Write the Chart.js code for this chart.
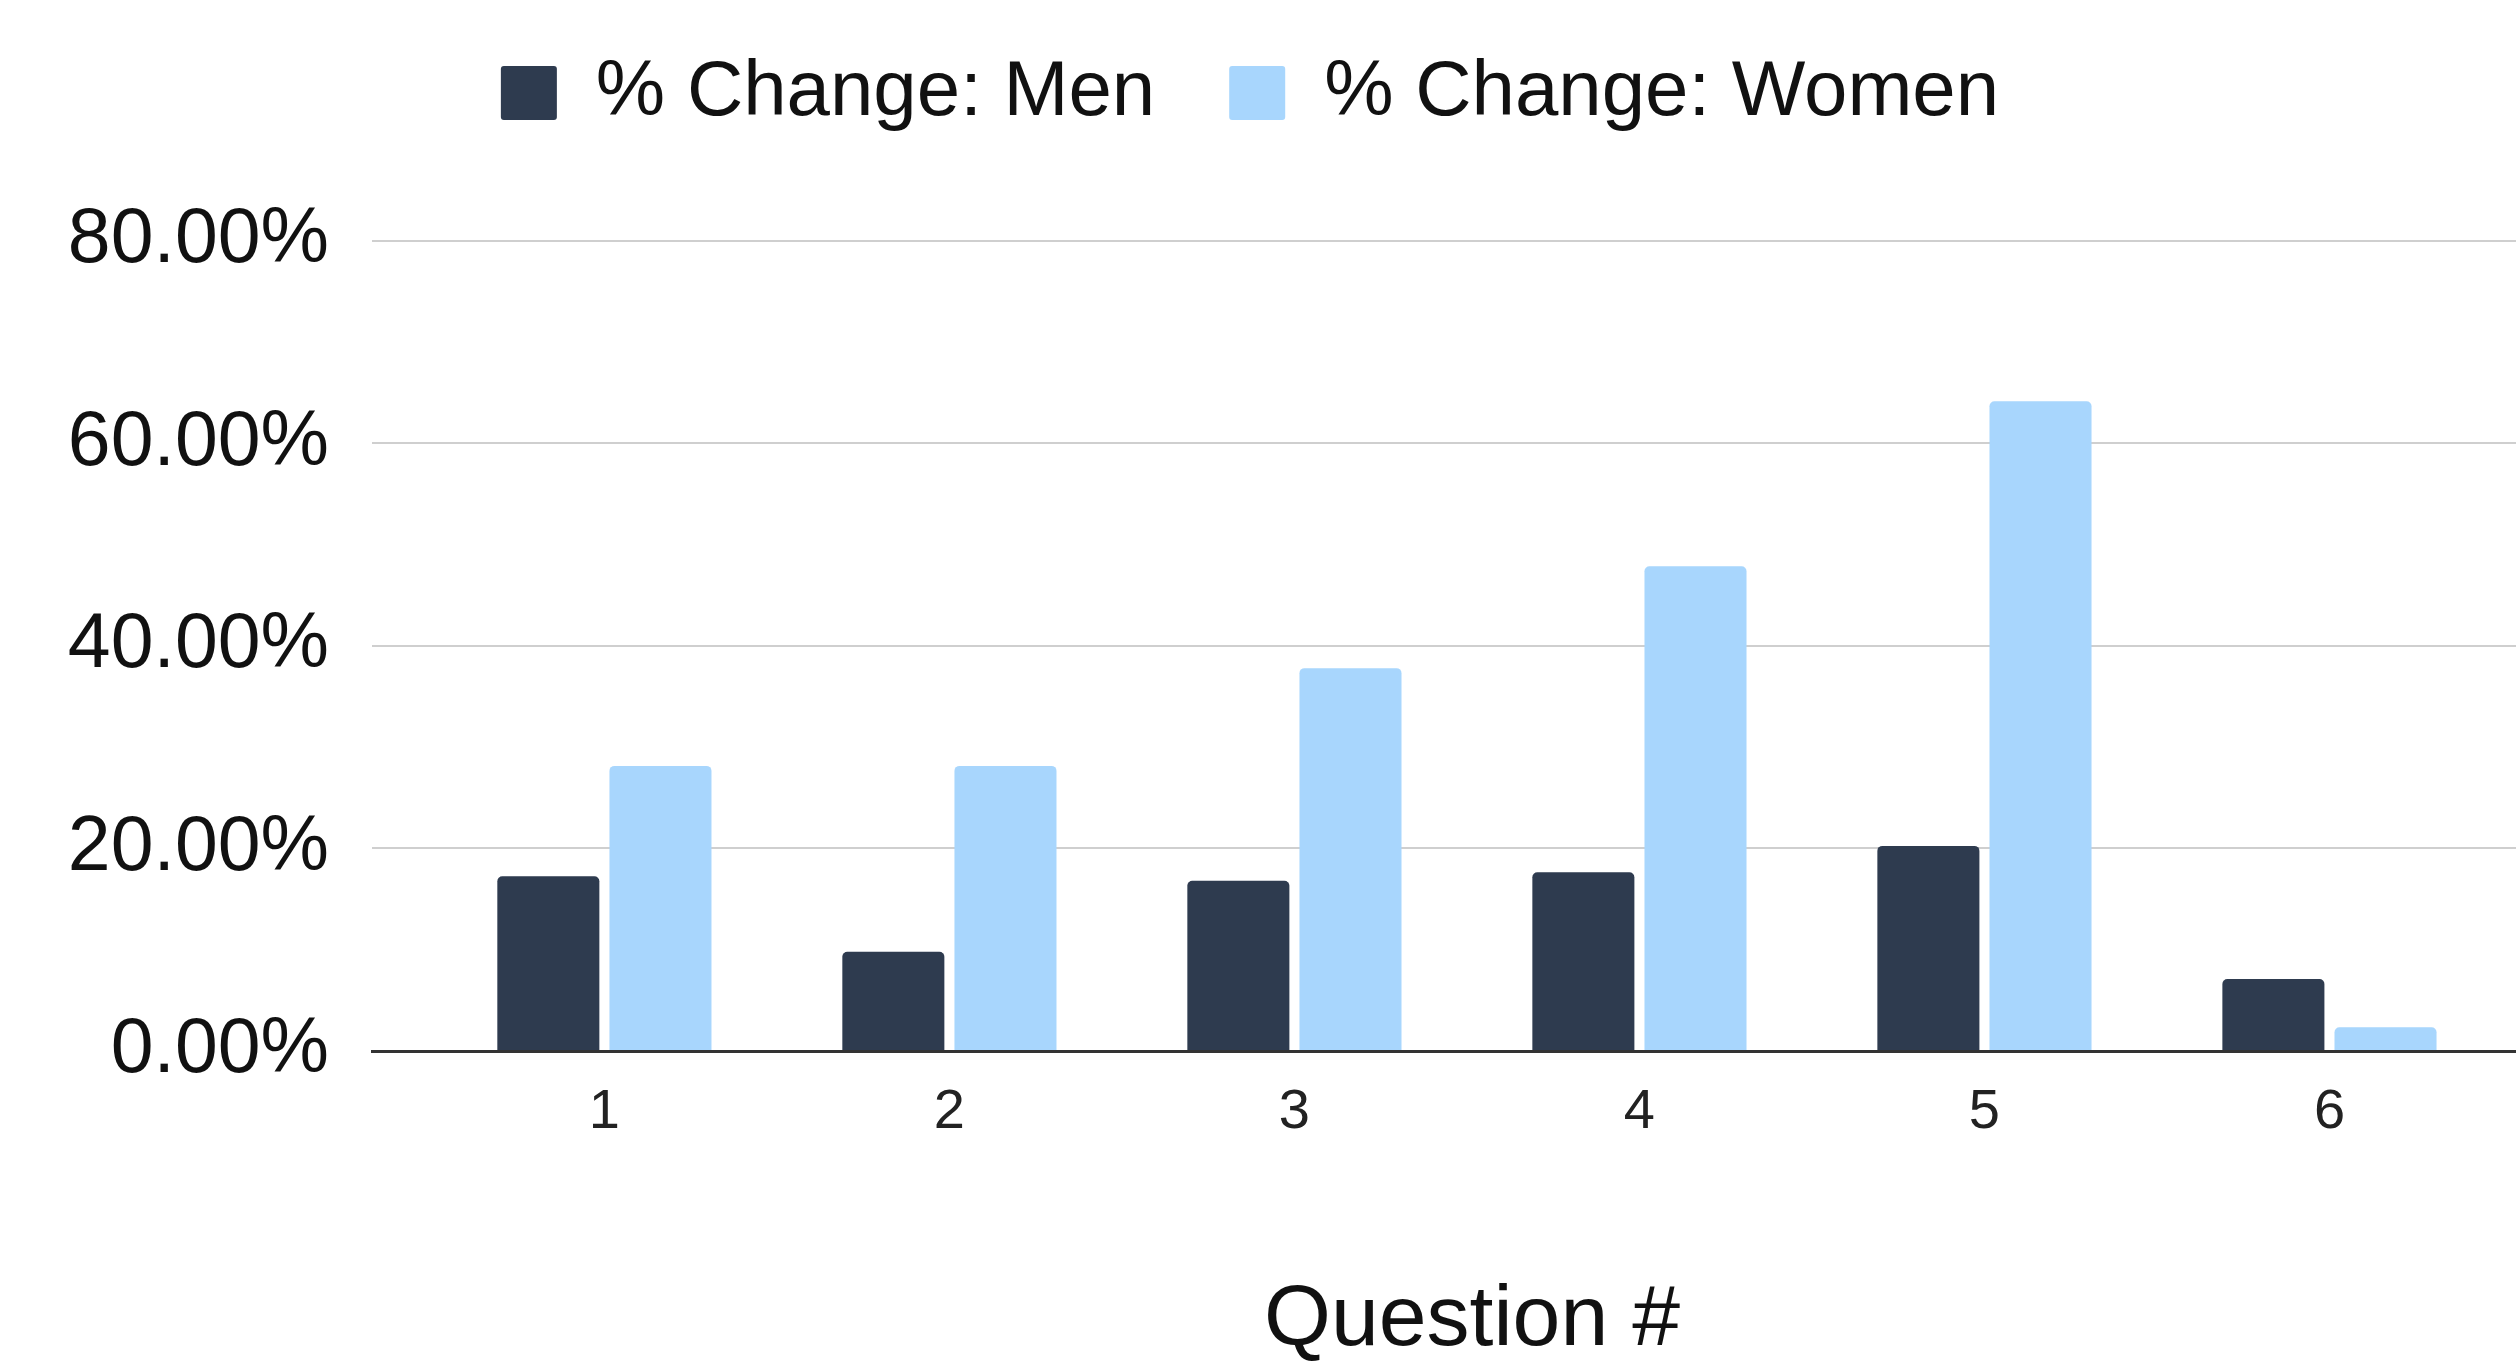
<!DOCTYPE html>
<html>
<head>
<meta charset="utf-8">
<script src="https://cdn.jsdelivr.net/npm/chart.js@4"></script>
<style>
  html, body { margin: 0; padding: 0; overflow: hidden; background: #ffffff; }
  canvas { display: block; }
</style>
</head>
<body>
<canvas id="chart" width="2572" height="1364"></canvas>
<script>
// Survey questions on the x axis
const questions = ['1', '2', '3', '4', '5', '6'];

// Percentage change per question (fractions)
const menChange   = [0.1725, 0.0980, 0.1680, 0.1765, 0.2025, 0.0710];
const womenChange = [0.2815, 0.2815, 0.3780, 0.4785, 0.6415, 0.0235];

const seriesNames = ['% Change: Men', '% Change: Women'];
const axisTitle = 'Question #';

// Value axis ticks
const yTickValues = [0, 0.2, 0.4, 0.6, 0.8];
const yTickLabels = ['0.00%', '20.00%', '40.00%', '60.00%', '80.00%'];

const FONT = "'Liberation Sans', Arial, sans-serif";
Chart.defaults.font.family = FONT;

const barStyle = {
  categoryPercentage: 0.65,
  barPercentage: 0.91,
  borderRadius: 5,
  borderSkipped: 'start',
  borderWidth: 0
};

new Chart(document.getElementById('chart'), {
  type: 'bar',
  data: {
    labels: questions,
    datasets: [
      Object.assign({ label: seriesNames[0], data: menChange, backgroundColor: '#2e3b4f' }, barStyle),
      Object.assign({ label: seriesNames[1], data: womenChange, backgroundColor: '#a8d6fd' }, barStyle)
    ]
  },
  options: {
    responsive: false,
    devicePixelRatio: 1,
    animation: false,
    layout: { padding: { left: -72, top: -20, right: 0, bottom: 0 } },
    plugins: {
      legend: {
        labels: {
          boxWidth: 56,
          boxHeight: 54,
          useBorderRadius: true,
          borderRadius: 3,
          padding: 74,
          color: '#111111',
          font: { size: 78 }
        }
      },
      tooltip: { enabled: false }
    },
    scales: {
      x: {
        type: 'linear',
        offset: false,
        min: 0.3264,
        max: 6.703,
        grid: { display: false, offset: false },
        border: { display: true, color: '#333333', width: 3, z: 1 },
        afterBuildTicks: (scale) => { scale.ticks = questions.map((q, i) => ({ value: i + 1 })); },
        ticks: {
          callback: (value) => questions[value - 1],
          font: { size: 56 },
          color: '#222222',
          padding: 20,
          maxRotation: 0,
          autoSkip: false
        },
        title: {
          display: true,
          text: axisTitle,
          color: '#111111',
          font: { size: 86, lineHeight: 1 },
          padding: { top: 0, bottom: 0 }
        },
        afterFit: (scale) => { scale.height = 313; }
      },
      y: {
        min: 0,
        max: 0.8975,
        afterBuildTicks: (scale) => { scale.ticks = yTickValues.map(v => ({ value: v })); },
        ticks: {
          callback: (value, index) => yTickLabels[index],
          font: { size: 77 },
          color: '#111111',
          padding: 43
        },
        grid: { color: '#cfcfcf', lineWidth: 2, drawTicks: false },
        border: { display: false },
        afterFit: (scale) => { scale.width = 444; }
      }
    }
  }
});
</script>
</body>
</html>
